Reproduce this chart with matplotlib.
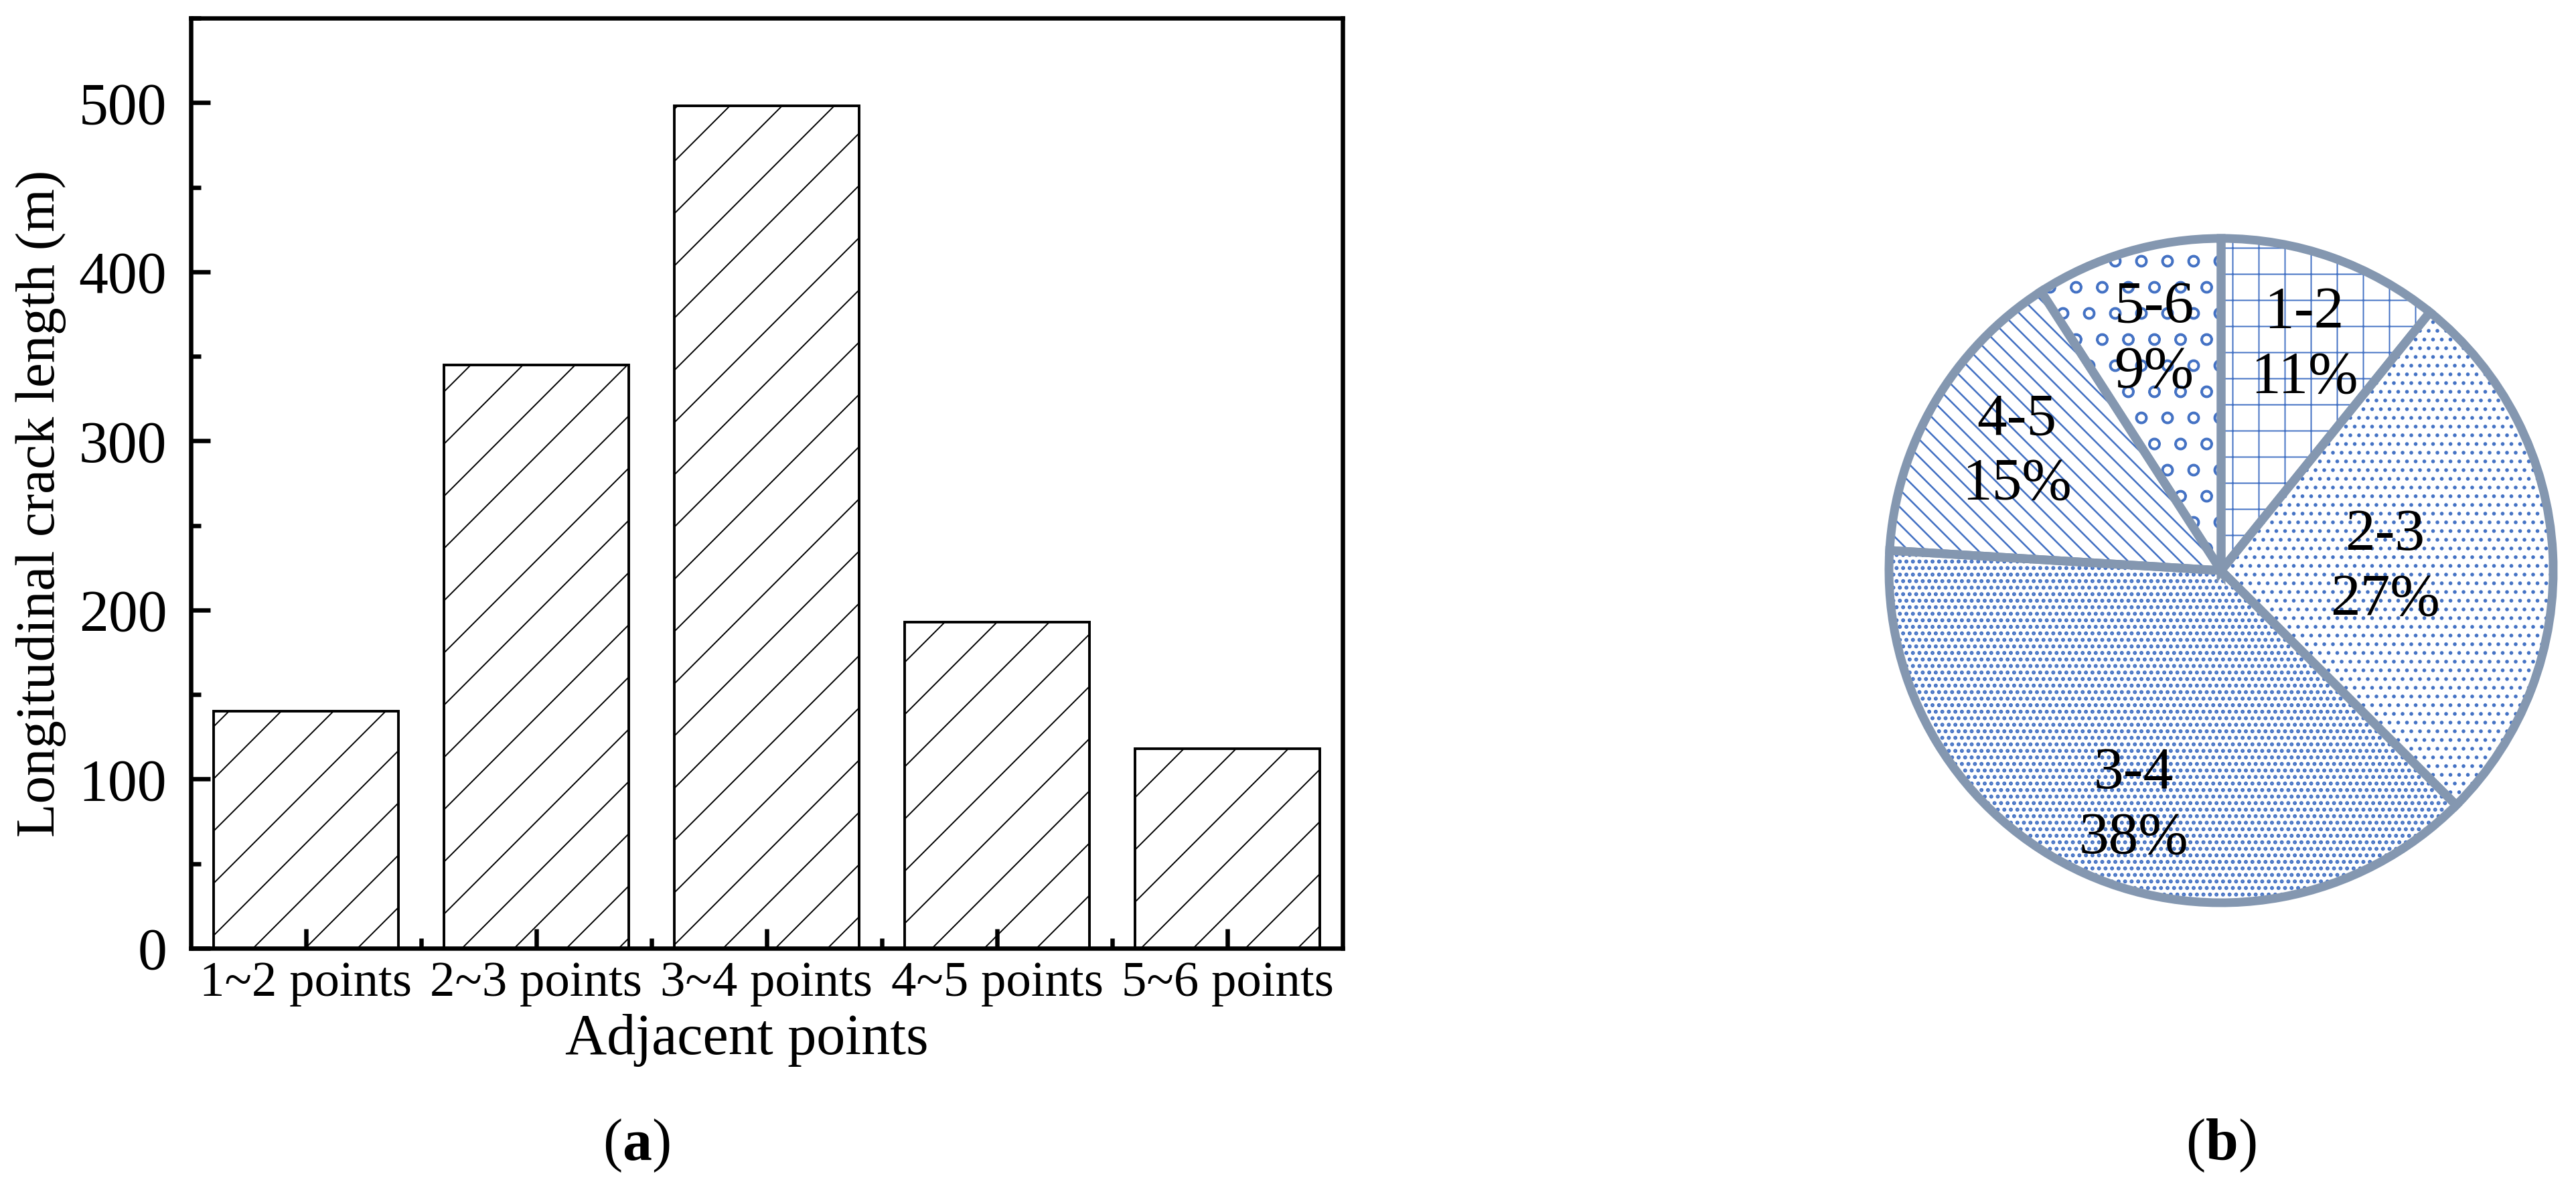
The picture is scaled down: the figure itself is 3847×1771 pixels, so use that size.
import numpy as np
import matplotlib
matplotlib.use("Agg")
import matplotlib.pyplot as plt
from matplotlib.ticker import MultipleLocator, FixedLocator

# data
categories = ["1~2 points", "2~3 points", "3~4 points", "4~5 points", "5~6 points"]
crack_length = [140, 345, 498, 193, 118]
pie_labels = ["1-2", "2-3", "3-4", "4-5", "5-6"]

# styling / layout
pie_hatches = ["+", "...", "....", "\\\\\\", "o"]
pie_hatch_lw = [0.6, 0.9, 1.2, 0.8, 1.0]
pie_label_pos = [(0.25, 0.677), (0.494, 0.008), (-0.264, -0.71), (-0.615, 0.357), (-0.202, 0.694)]
hatch_blue = "#4472C4"
edge_gray = "#8497B0"

plt.rcParams["font.family"] = ["Liberation Serif", "DejaVu Serif"]
plt.rcParams["mathtext.fontset"] = "custom"
plt.rcParams["mathtext.rm"] = "Liberation Serif"
plt.rcParams["mathtext.bf"] = "Liberation Serif:bold"
plt.rcParams["hatch.linewidth"] = 0.6

W, H, DPI = 3847, 1771, 234
fig = plt.figure(figsize=(W / DPI, H / DPI), dpi=DPI)

# (a) bar chart
ax = fig.add_axes([285 / W, 1 - 1416 / H, (2005 - 285) / W, (1416 - 27) / H])
x = np.arange(len(categories))
ax.bar(x, crack_length, width=0.8, color="white", edgecolor="black",
       linewidth=1.2, hatch="/")
ax.set_xlim(-0.5, len(categories) - 0.5)
ax.set_ylim(0, 550)
ax.set_xticks(x)
ax.set_xticklabels(categories)
ax.xaxis.set_minor_locator(FixedLocator(x[:-1] + 0.5))
ax.yaxis.set_major_locator(MultipleLocator(100))
ax.yaxis.set_minor_locator(MultipleLocator(50))
ax.tick_params(which="both", direction="in", width=2, top=False, right=False)
ax.tick_params(which="major", length=9)
ax.tick_params(which="minor", length=4.5)
ax.tick_params(axis="x", labelsize=23, pad=6)
ax.tick_params(axis="y", labelsize=27, pad=11)
for s in ax.spines.values():
    s.set_linewidth(2)
ax.set_xlabel("Adjacent points", fontsize=26.5)
ax.xaxis.set_label_coords(0.483, -0.07)
ax.set_ylabel("Longitudinal crack length (m)", fontsize=25.5)
ax.yaxis.set_label_coords(-0.108, 0.478)

# (b) pie chart
ax2 = fig.add_axes([2821 / W, 1 - 1348 / H, 992 / W, 992 / H])
wedges, _ = ax2.pie(crack_length, startangle=90, counterclock=False,
                    colors=["white"] * len(crack_length),
                    wedgeprops=dict(edgecolor=hatch_blue, linewidth=0, clip_on=False))
for w, h, lw in zip(wedges, pie_hatches, pie_hatch_lw):
    w.set_hatch(h)
    if hasattr(w, "set_hatch_linewidth"):
        w.set_hatch_linewidth(lw)
ax2.pie(crack_length, startangle=90, counterclock=False,
        wedgeprops=dict(fill=False, edgecolor=edge_gray, linewidth=4, clip_on=False))
ax2.set_xlim(-1, 1)
ax2.set_ylim(-1, 1)

total = sum(crack_length)
for lab, v, (px, py) in zip(pie_labels, crack_length, pie_label_pos):
    ax2.text(px, py, f"{lab}\n{round(100 * v / total)}%", fontsize=27.5,
             ha="center", va="center", multialignment="center", linespacing=1.25)

fig.text(950 / W, 1 - 1711 / H, r"($\mathbf{a}$)", fontsize=27, ha="center", va="center")
fig.text(3317 / W, 1 - 1711 / H, r"($\mathbf{b}$)", fontsize=27, ha="center", va="center")

fig.savefig("out.png", dpi=DPI)
plt.close(fig)
